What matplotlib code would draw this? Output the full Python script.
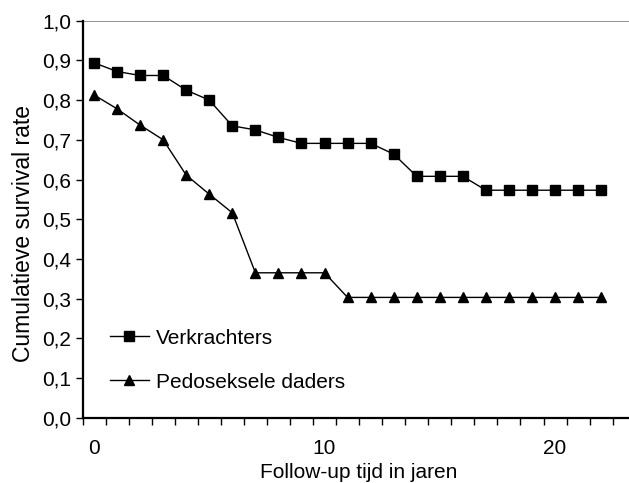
import matplotlib
matplotlib.use("Agg")
import matplotlib.pyplot as plt
from matplotlib.ticker import FixedLocator, FuncFormatter

plt.rcParams['font.family'] = ['Liberation Sans', 'DejaVu Sans']

years = list(range(23))
verkrachters = [0.894, 0.872, 0.862, 0.862, 0.825, 0.800, 0.735, 0.725, 0.706, 0.691,
                0.691, 0.691, 0.691, 0.664, 0.608, 0.608, 0.608, 0.573, 0.573, 0.573,
                0.573, 0.573, 0.573]
pedoseksele = [0.813, 0.778, 0.737, 0.700, 0.611, 0.563, 0.516, 0.365, 0.365, 0.365,
               0.365, 0.303, 0.303, 0.303, 0.303, 0.303, 0.303, 0.303, 0.303, 0.303,
               0.303, 0.303, 0.303]
x_tick_labels = ['0', '10', '20']
y_ticks = [0.0, 0.1, 0.2, 0.3, 0.4, 0.5, 0.6, 0.7, 0.8, 0.9, 1.0]

W, H = 629, 483
fig = plt.figure(figsize=(W / 100, H / 100), dpi=100)
left, right = 82.5, 635.7
top, bottom = 20.7, 417.7
ax = fig.add_axes([left / W, (H - bottom) / H, (right - left) / W, (bottom - top) / H])

fs = 15
ax.plot(years, verkrachters, color='black', lw=1, marker='s', ms=6.8,
        label='Verkrachters', clip_on=False)
ax.plot(years, pedoseksele, color='black', lw=1, marker='^', ms=7.5,
        label='Pedoseksele daders', clip_on=False)

ax.axhline(1.0, color='#808080', lw=1.2, zorder=0)

ax.set_xlim(-0.5, 23.5)
ax.set_ylim(0, 1.0)

for s in ['top', 'right']:
    ax.spines[s].set_visible(False)
for s in ['left', 'bottom']:
    ax.spines[s].set_linewidth(1.6)

ax.yaxis.set_major_locator(FixedLocator(y_ticks))
ax.yaxis.set_major_formatter(FuncFormatter(lambda v, p: f"{v:.1f}".replace('.', ',')))
ax.tick_params(axis='y', direction='out', length=5, width=1, labelsize=fs, pad=3)

lab_pos = [int(t) for t in x_tick_labels]
ax.xaxis.set_major_locator(FixedLocator(lab_pos))
ax.set_xticklabels(x_tick_labels)
ax.xaxis.set_minor_locator(FixedLocator([i - 0.5 for i in range(25)]))
ax.tick_params(axis='x', which='major', length=0, labelsize=fs, pad=15)
ax.tick_params(axis='x', which='minor', direction='out', length=5, width=1)

ax.set_xlabel('Follow-up tijd in jaren', fontsize=fs, labelpad=4)
ax.set_ylabel('Cumulatieve survival rate', fontsize=16.5)
ax.yaxis.set_label_coords(-0.086, 0.465)

leg = ax.legend(loc='upper left', bbox_to_anchor=(0.035, 0.245), frameon=False,
                fontsize=fs, handlelength=1.85, handletextpad=0.35, labelspacing=1.2,
                borderaxespad=0)

fig.savefig('out.png', dpi=100)
